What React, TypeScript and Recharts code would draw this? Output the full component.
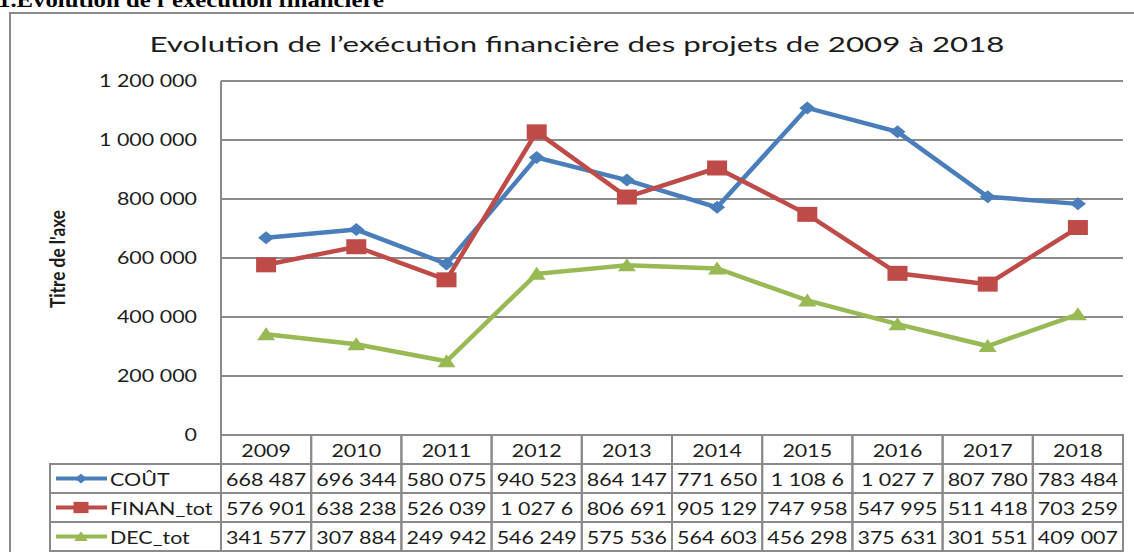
import React from "react";
import { LineChart, Line, XAxis, YAxis, CartesianGrid } from "recharts";

const years = ["2009", "2010", "2011", "2012", "2013", "2014", "2015", "2016", "2017", "2018"];
const cout = [668487, 696344, 580075, 940523, 864147, 771650, 1108650, 1027750, 807780, 783484];
const finanTot = [576901, 638238, 526039, 1027650, 806691, 905129, 747958, 547995, 511418, 703259];
const decTot = [341577, 307884, 249942, 546249, 575536, 564603, 456298, 375631, 301551, 409007];
const yTicks = [0, 200000, 400000, 600000, 800000, 1000000, 1200000];

const series = [
  { key: "cout", name: "COÛT", color: "#4A7EBB", shape: "diamond", values: cout },
  { key: "finan", name: "FINAN_tot", color: "#BE4B48", shape: "square", values: finanTot },
  { key: "dec", name: "DEC_tot", color: "#98B954", shape: "triangle", values: decTot },
];

const data = years.map((year, i) => ({
  year,
  cout: cout[i],
  finan: finanTot[i],
  dec: decTot[i],
}));

const W = 1134;
const H = 552;
const MARGIN = { top: 81, right: 11, left: 0, bottom: 1 };
const Y_AXIS_W = 221;
const X_AXIS_H = 116;
const ROW_H = X_AXIS_H / 4;
const COL_W = (W - MARGIN.left - MARGIN.right - Y_AXIS_W) / years.length;
const LEGEND_W = 171;
const SX = 1.3;
const FONT = "Lato, 'Open Sans', sans-serif";
const GRID = "#8a8a8a";
const INK = "#1c1c1c";

const fmt = (n: number) => String(n).replace(/\B(?=(\d{3})+(?!\d))/g, " ");

function SText({ x, y, children, anchor = "middle", size = 16.5, weight = 400 }: any) {
  return (
    <text
      transform={`translate(${x},${y}) scale(${SX},1)`}
      textAnchor={anchor}
      dominantBaseline="central"
      fontFamily={FONT}
      fontSize={size}
      fontWeight={weight}
      fill={INK}
    >
      {children}
    </text>
  );
}

function Marker({ cx, cy, shape, color, s = 1 }: any) {
  if (shape === "diamond") {
    const w = 8 * s;
    const h = 6.5 * s;
    return <polygon points={`${cx - w},${cy} ${cx},${cy - h} ${cx + w},${cy} ${cx},${cy + h}`} fill={color} />;
  }
  if (shape === "square") {
    return <rect x={cx - 10 * s} y={cy - 7.5 * s} width={20 * s} height={15 * s} fill={color} />;
  }
  return (
    <polygon
      points={`${cx - 9 * s},${cy + 6 * s} ${cx},${cy - 7 * s} ${cx + 9 * s},${cy + 6 * s}`}
      fill={color}
    />
  );
}

function YTick({ x, y, payload }: any) {
  return (
    <SText x={x - 24} y={y} anchor="end">
      {fmt(payload.value)}
    </SText>
  );
}

function TableTick({ x, y, payload, index }: any) {
  const i = payload.index ?? index;
  const left = x - COL_W / 2;
  const cells = [years[i], ...series.map((s) => fmt(s.values[i]).slice(0, 7))];
  return (
    <g>
      {cells.map((t, r) => (
        <g key={r}>
          <rect x={left} y={y + r * ROW_H} width={COL_W} height={ROW_H} fill="none" stroke={GRID} strokeWidth={2} />
          <SText x={x} y={y + r * ROW_H + ROW_H / 2 + 1}>
            {t}
          </SText>
        </g>
      ))}
      {i === 0 &&
        series.map((s, r) => {
          const top = y + (r + 1) * ROW_H;
          const lx = left - LEGEND_W;
          const cy = top + ROW_H / 2;
          return (
            <g key={s.key}>
              <rect x={lx} y={top} width={LEGEND_W} height={ROW_H} fill="none" stroke={GRID} strokeWidth={2} />
              <line x1={lx + 6} x2={lx + 57} y1={cy} y2={cy} stroke={s.color} strokeWidth={4} />
              <Marker cx={lx + 31} cy={cy} shape={s.shape} color={s.color} s={0.75} />
              <SText x={lx + 60} y={cy + 1} anchor="start">
                {s.name}
              </SText>
            </g>
          );
        })}
    </g>
  );
}

export default function App() {
  return (
    <div style={{ position: "absolute", left: 0, top: 0, width: W, height: H, overflow: "hidden", background: "#fff" }}>
      <LineChart width={W} height={H} data={data} margin={MARGIN}>
        <CartesianGrid vertical={false} stroke={GRID} strokeWidth={2} />
        <YAxis
          width={Y_AXIS_W}
          domain={[0, 1200000]}
          ticks={yTicks}
          interval={0}
          axisLine={{ stroke: GRID, strokeWidth: 2 }}
          tickLine={false}
          tickSize={0}
          tickMargin={0}
          tick={<YTick />}
        />
        <XAxis
          dataKey="year"
          height={X_AXIS_H}
          interval={0}
          padding={{ left: COL_W / 2, right: COL_W / 2 }}
          axisLine={false}
          tickLine={false}
          tickSize={0}
          tickMargin={0}
          tick={<TableTick />}
        />
        {series.map((s) => (
          <Line
            key={s.key}
            dataKey={s.key}
            name={s.name}
            stroke={s.color}
            strokeWidth={4.5}
            isAnimationActive={false}
            dot={(p: any) => <Marker key={`${s.key}-${p.index}`} cx={p.cx} cy={p.cy} shape={s.shape} color={s.color} />}
            activeDot={false}
          />
        ))}
      </LineChart>
      <svg width={W} height={H} style={{ position: "absolute", left: 0, top: 0, pointerEvents: "none" }}>
        <path d={`M10,${H + 5} L10,13 L${W + 5},13`} fill="none" stroke={GRID} strokeWidth={2} />
        <text
          x={-2}
          y={7}
          fontFamily="'Liberation Serif', serif"
          fontWeight={700}
          fontSize={22}
          textLength={386}
          lengthAdjust="spacingAndGlyphs"
          fill="#000"
        >
          1.Evolution de l’exécution financière
        </text>
        <text
          x={577}
          y={52}
          textAnchor="middle"
          fontFamily={FONT}
          fontSize={22}
          textLength={855}
          lengthAdjust="spacingAndGlyphs"
          fill={INK}
        >
          Evolution de l’exécution financière des projets de 2009 à 2018
        </text>
        <text
          transform={`translate(57,259) scale(${SX},1) rotate(-90)`}
          textAnchor="middle"
          dominantBaseline="central"
          fontFamily={FONT}
          fontWeight={700}
          fontSize={16.5}
          textLength={98}
          lengthAdjust="spacingAndGlyphs"
          fill={INK}
        >
          Titre de l'axe
        </text>
      </svg>
    </div>
  );
}
